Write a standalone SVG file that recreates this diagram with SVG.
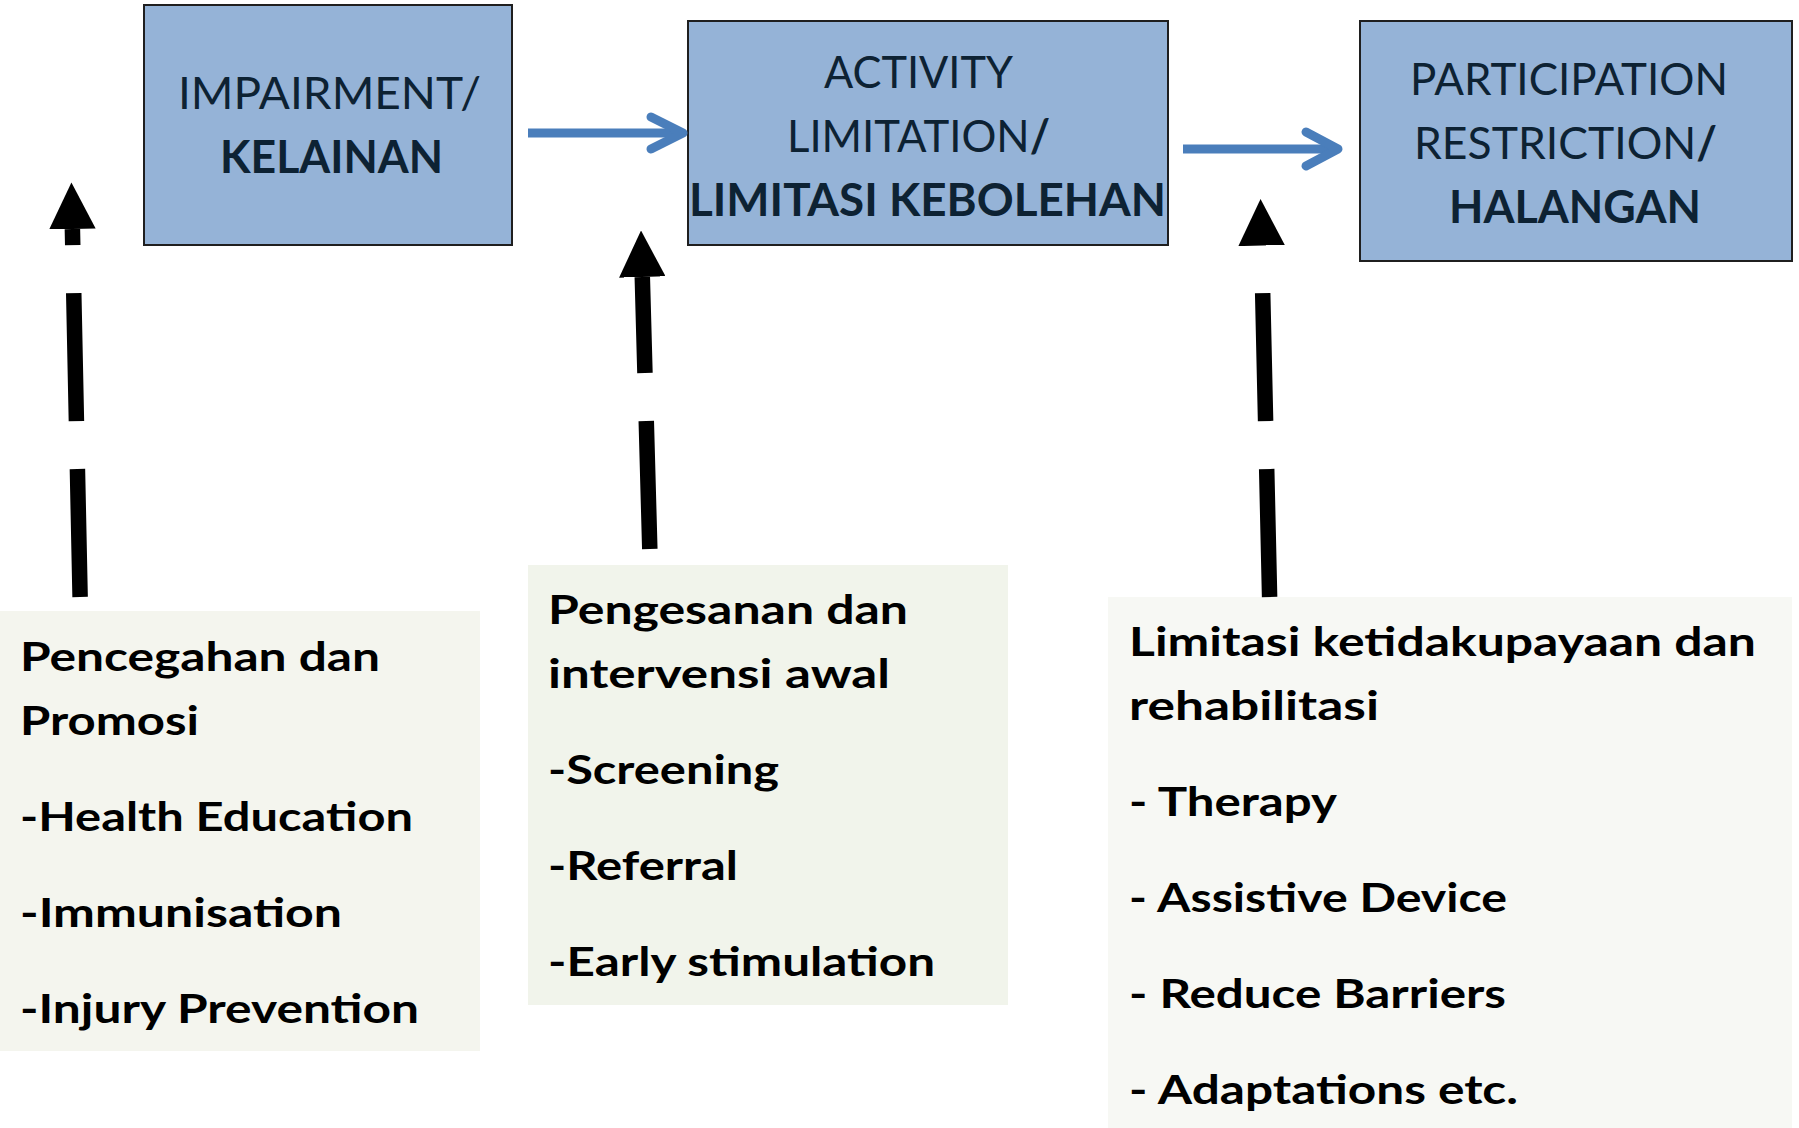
<svg xmlns="http://www.w3.org/2000/svg" width="1799" height="1128" viewBox="0 0 1799 1128">
<defs>
<style>
.box{fill:#95B3D7;stroke:#1F1F1F;stroke-width:2}
.t{font-family:Lato,"Open Sans","Liberation Sans",sans-serif;font-size:45px;fill:#0D2233}
.tb{font-weight:bold}
.b{font-family:Lato,"Open Sans","Liberation Sans",sans-serif;font-size:41px;font-weight:bold;fill:#000}
.blue{fill:none;stroke:#4A7EBB;stroke-width:9}
.dash{fill:none;stroke:#000;stroke-width:15.5;stroke-dasharray:128 48}
</style>
<marker id="head" viewBox="0 0 10 10" refX="0" refY="5" markerWidth="3" markerHeight="3" markerUnits="strokeWidth" orient="auto">
<path d="M0,0 L10,5 L0,10 z" fill="#000"/>
</marker>
</defs>
<rect width="1799" height="1128" fill="#fff"/>

<g id="impairment">
<rect class="box" x="144" y="5" width="368" height="240"/>
<text class="t" x="178" y="109" textLength="303" lengthAdjust="spacingAndGlyphs">IMPAIRMENT/</text>
<text class="t tb" x="220" y="173" textLength="223" lengthAdjust="spacingAndGlyphs">KELAINAN</text>
</g>

<g id="activity">
<rect class="box" x="688" y="21" width="480" height="224"/>
<text class="t" x="824" y="88" textLength="189" lengthAdjust="spacingAndGlyphs">ACTIVITY</text>
<text class="t" x="787" y="152" textLength="263" lengthAdjust="spacingAndGlyphs">LIMITATION<tspan class="tb">/</tspan></text>
<text class="t tb" x="689" y="216" textLength="477" lengthAdjust="spacingAndGlyphs">LIMITASI KEBOLEHAN</text>
</g>

<g id="participation">
<rect class="box" x="1360" y="21" width="432" height="240"/>
<text class="t" x="1410" y="95" textLength="318" lengthAdjust="spacingAndGlyphs">PARTICIPATION</text>
<text class="t" x="1414" y="159" textLength="303" lengthAdjust="spacingAndGlyphs">RESTRICTION<tspan class="tb">/</tspan></text>
<text class="t tb" x="1449" y="223" textLength="252" lengthAdjust="spacingAndGlyphs">HALANGAN</text>
</g>

<g id="pencegahan">
<rect x="0" y="611" width="480" height="440" fill="#F4F5EE"/>
<text class="b" x="20" y="671" textLength="360" lengthAdjust="spacingAndGlyphs">Pencegahan dan</text>
<text class="b" x="20" y="735" textLength="179" lengthAdjust="spacingAndGlyphs">Promosi</text>
<text class="b" x="20" y="831" textLength="393" lengthAdjust="spacingAndGlyphs">-Health Education</text>
<text class="b" x="20" y="927" textLength="322" lengthAdjust="spacingAndGlyphs">-Immunisation</text>
<text class="b" x="20" y="1023" textLength="399" lengthAdjust="spacingAndGlyphs">-Injury Prevention</text>
</g>

<g id="pengesanan">
<rect x="528" y="565" width="480" height="440" fill="#F1F4EB"/>
<text class="b" x="548" y="624" textLength="360" lengthAdjust="spacingAndGlyphs">Pengesanan dan</text>
<text class="b" x="548" y="688" textLength="342" lengthAdjust="spacingAndGlyphs">intervensi awal</text>
<text class="b" x="548" y="784" textLength="231" lengthAdjust="spacingAndGlyphs">-Screening</text>
<text class="b" x="548" y="880" textLength="190" lengthAdjust="spacingAndGlyphs">-Referral</text>
<text class="b" x="548" y="976" textLength="387" lengthAdjust="spacingAndGlyphs">-Early stimulation</text>
</g>

<g id="limitasi">
<rect x="1108" y="597" width="684" height="531" fill="#F7F8F4"/>
<text class="b" x="1129" y="656" textLength="627" lengthAdjust="spacingAndGlyphs">Limitasi ketidakupayaan dan</text>
<text class="b" x="1129" y="720" textLength="250" lengthAdjust="spacingAndGlyphs">rehabilitasi</text>
<text class="b" x="1129" y="816" textLength="208" lengthAdjust="spacingAndGlyphs">- Therapy</text>
<text class="b" x="1129" y="912" textLength="378" lengthAdjust="spacingAndGlyphs">- Assistive Device</text>
<text class="b" x="1129" y="1008" textLength="377" lengthAdjust="spacingAndGlyphs">- Reduce Barriers</text>
<text class="b" x="1129" y="1104" textLength="389" lengthAdjust="spacingAndGlyphs">- Adaptations etc.</text>
</g>

<g id="connectors">
<line class="blue" x1="528" y1="133" x2="682" y2="133"/>
<polyline class="blue" points="651,117 683,133 651,149" stroke-linecap="round" stroke-linejoin="round"/>
<line class="blue" x1="1183" y1="149" x2="1338" y2="149"/>
<polyline class="blue" points="1306,132 1338,149 1306,166" stroke-linecap="round" stroke-linejoin="round"/>
<line class="dash" x1="80.1" y1="597" x2="72.4" y2="229" marker-end="url(#head)"/>
<line class="dash" x1="649.8" y1="549" x2="642.3" y2="277" marker-end="url(#head)"/>
<line class="dash" x1="1269.6" y1="597" x2="1261.6" y2="245.6" marker-end="url(#head)"/>
</g>
</svg>
